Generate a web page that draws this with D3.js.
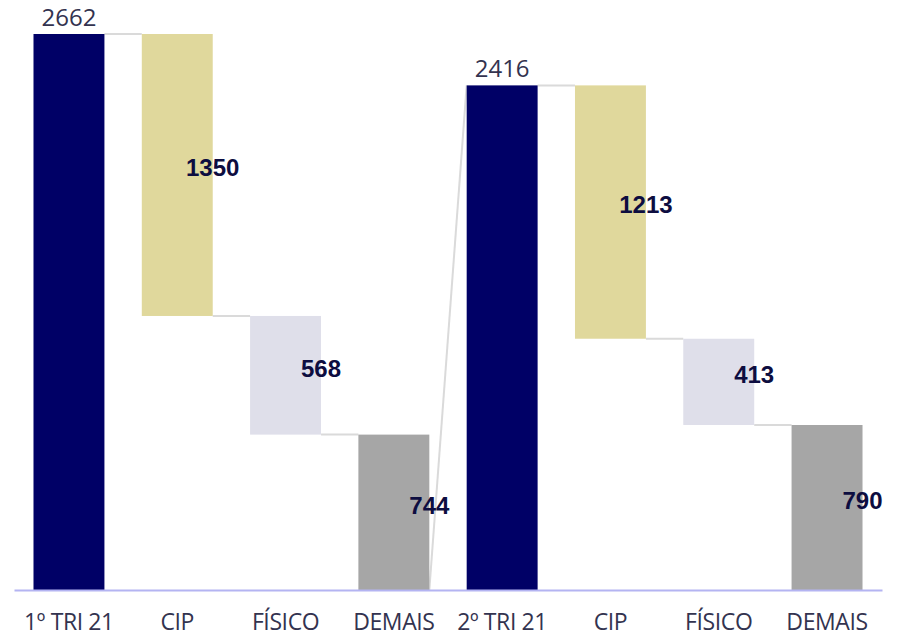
<!DOCTYPE html>
<html>
<head>
<meta charset="utf-8">
<script src="https://cdn.jsdelivr.net/npm/d3@7"></script>
<style>
  body { margin: 0; background: #fff; }
  svg { display: block; }
</style>
</head>
<body>
<svg id="chart"></svg>
<script>
// waterfall: two quarters, each one a total followed by its breakdown
const categories = ["1º TRI 21", "CIP", "FÍSICO", "DEMAIS", "2º TRI 21", "CIP ", "FÍSICO ", "DEMAIS "];
const labels = ["1º TRI 21", "CIP", "FÍSICO", "DEMAIS", "2º TRI 21", "CIP", "FÍSICO", "DEMAIS"];
const values = [2662, 1350, 568, 744, 2416, 1213, 413, 790];
const kinds = ["total", "CIP", "FISICO", "DEMAIS", "total", "CIP", "FISICO", "DEMAIS"];

const colors = {
  total: "#000066",
  CIP: "#e0d89c",
  FISICO: "#dfdfea",
  DEMAIS: "#a6a6a6",
};

const width = 899, height = 636;
const svg = d3.select("#chart").attr("width", width).attr("height", height);

// build start/end levels for every step
let level = 0;
const data = categories.map((c, i) => {
  let start, end;
  if (kinds[i] === "total") {
    start = 0; end = values[i]; level = values[i];
  } else {
    start = level; end = level - values[i]; level = end;
  }
  return { cat: c, label: labels[i], value: values[i], kind: kinds[i], start, end,
           lo: Math.min(start, end), hi: Math.max(start, end) };
});

const x = d3.scaleBand()
  .domain(categories)
  .range([14, 882])
  .paddingInner(0.345)
  .paddingOuter(0.18);

const y = d3.scaleLinear()
  .domain([0, d3.max(values)])
  .range([590, 34]);

// connectors
const links = d3.pairs(data);
svg.append("g")
  .selectAll("line")
  .data(links)
  .join("line")
  .attr("x1", ([a]) => x(a.cat) + x.bandwidth())
  .attr("y1", ([a]) => y(a.end))
  .attr("x2", ([, b]) => x(b.cat))
  .attr("y2", ([, b]) => y(b.hi))
  .attr("stroke", "#dadada")
  .attr("stroke-width", 2);

// bars
svg.append("g")
  .selectAll("rect")
  .data(data)
  .join("rect")
  .attr("x", d => x(d.cat))
  .attr("y", d => y(d.hi))
  .attr("width", x.bandwidth())
  .attr("height", d => y(d.lo) - y(d.hi))
  .attr("fill", d => colors[d.kind]);

// baseline axis
const xAxis = svg.append("g")
  .attr("transform", `translate(0,${y(0)})`)
  .call(d3.axisBottom(x).tickSize(0).tickPadding(24).tickFormat((d, i) => labels[i]));

xAxis.select(".domain").attr("stroke", "#b4b4f2").attr("stroke-width", 2);
xAxis.selectAll("text")
  .style("font-family", "'Open Sans', sans-serif")
  .style("font-size", "23px")
  .style("letter-spacing", "-0.4px")
  .style("fill", "#33334f");

// total labels above bars
svg.append("g")
  .selectAll("text")
  .data(data.filter(d => d.kind === "total"))
  .join("text")
  .attr("x", d => x(d.cat) + x.bandwidth() / 2)
  .attr("y", d => y(d.hi) - 8)
  .attr("text-anchor", "middle")
  .style("font-family", "'Open Sans', sans-serif")
  .style("font-size", "24px")
  .style("fill", "#33334f")
  .text(d => d.value);

// step labels on the right edge of each bar
svg.append("g")
  .selectAll("text")
  .data(data.filter(d => d.kind !== "total"))
  .join("text")
  .attr("x", d => x(d.cat) + x.bandwidth())
  .attr("y", d => (y(d.lo) + y(d.hi)) / 2 - 7)
  .attr("dy", "0.35em")
  .attr("text-anchor", "middle")
  .style("font-family", "'Liberation Sans', Arial, sans-serif")
  .style("font-weight", "bold")
  .style("font-size", "24px")
  .style("fill", "#0d0d40")
  .text(d => d.value);
</script>
</body>
</html>
